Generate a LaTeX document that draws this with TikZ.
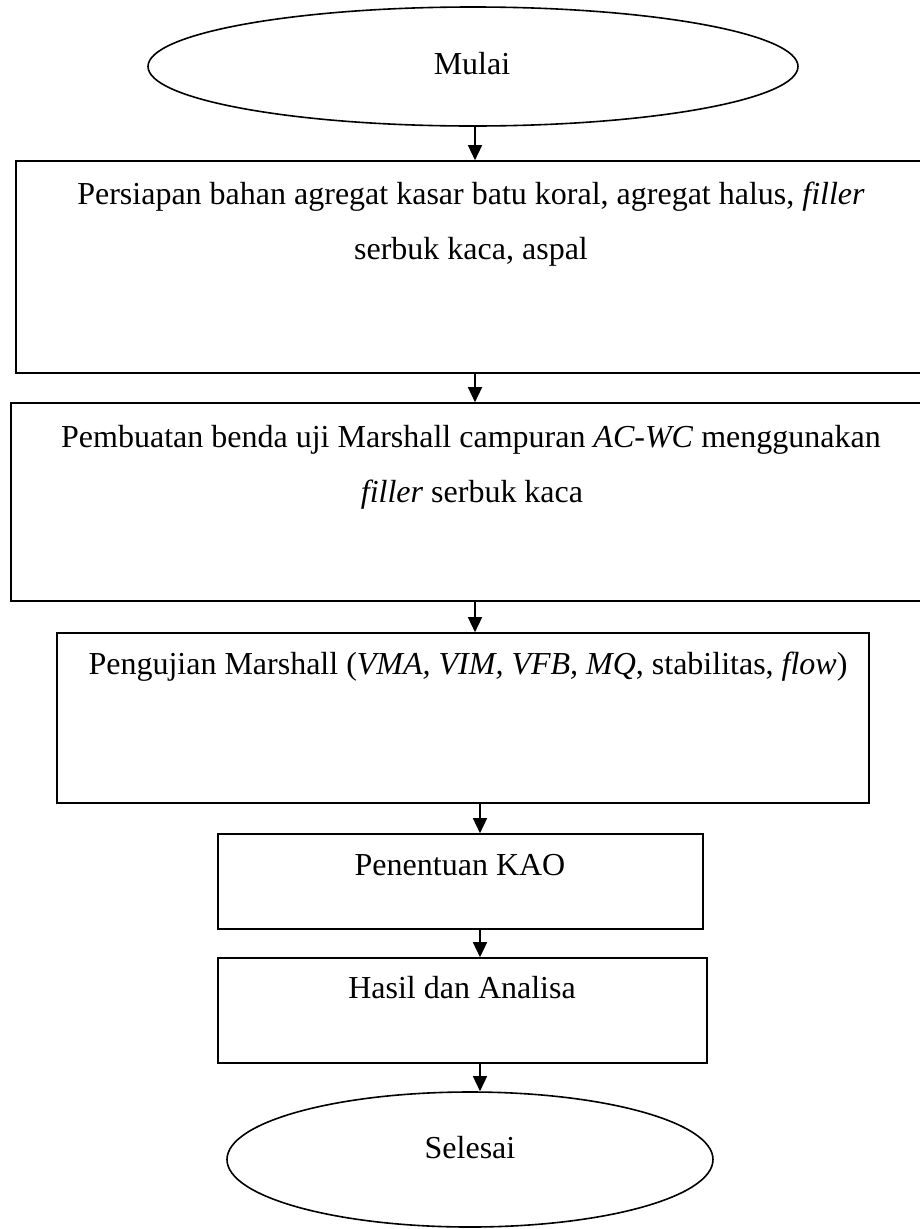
\documentclass[tikz,border=0pt]{standalone}
\usepackage{fontspec}
\setmainfont{Liberation Serif}
\usetikzlibrary{shapes.geometric,arrows.meta}
\begin{document}
\begin{tikzpicture}[x=1pt,y=-1pt,
  box/.style={draw, line width=1.6pt, rectangle, inner sep=0pt},
  oval/.style={draw, line width=1.6pt, ellipse, inner sep=0pt},
  txt/.style={inner sep=0pt, anchor=base, font=\fontsize{32}{38}\selectfont},
  arr/.style={line width=1.4pt, -{Triangle[length=15pt,width=14pt]}}]
\useasboundingbox (0,0) rectangle (920,1229);
% shapes
\node[oval, minimum width=650pt, minimum height=119pt] (mulai) at (473,66.5) {};
\node[box, minimum width=914pt, minimum height=212pt] (b1) at (473,267) {};
\node[box, minimum width=919pt, minimum height=198pt] (b2) at (470.5,502) {};
\node[box, minimum width=812pt, minimum height=170pt] (b3) at (463,718) {};
\node[box, minimum width=485pt, minimum height=95pt] (b4) at (460.5,881.5) {};
\node[box, minimum width=489pt, minimum height=105pt] (b5) at (462.5,1010.5) {};
\node[oval, minimum width=486pt, minimum height=135pt] (selesai) at (470,1159.5) {};
% texts
\node[txt] (tm) at (472,74) {Mulai};
\node[txt] (t1a) at (471,204) {Persiapan bahan agregat kasar batu koral, agregat halus, \textit{filler}};
\node[txt] (t1b) at (471,259) {serbuk kaca, aspal};
\node[txt] (t2a) at (471,447) {Pembuatan benda uji Marshall campuran \textit{AC-WC} menggunakan};
\node[txt] (t2b) at (472,502) {\textit{filler} serbuk kaca};
\node[txt] (t3) at (468,674) {Pengujian Marshall (\textit{VMA, VIM, VFB, MQ}, stabilitas, \textit{flow})};
\node[txt] (t4) at (460,875) {Penentuan KAO};
\node[txt] (t5) at (462,998) {Hasil dan Analisa};
\node[txt] (ts) at (470,1158) {Selesai};
% connectors
\coordinate (c1) at (475,0);
\coordinate (c2) at (480,0);
\draw[arr] (mulai.south -| c1) -- (b1.north -| c1);
\draw[arr] (b1.south -| c1) -- (b2.north -| c1);
\draw[arr] (b2.south -| c1) -- (b3.north -| c1);
\draw[arr] (b3.south -| c2) -- (b4.north -| c2);
\draw[arr] (b4.south -| c2) -- (b5.north -| c2);
\draw[arr] (b5.south -| c2) -- (selesai.north -| c2);
\end{tikzpicture}
\end{document}
